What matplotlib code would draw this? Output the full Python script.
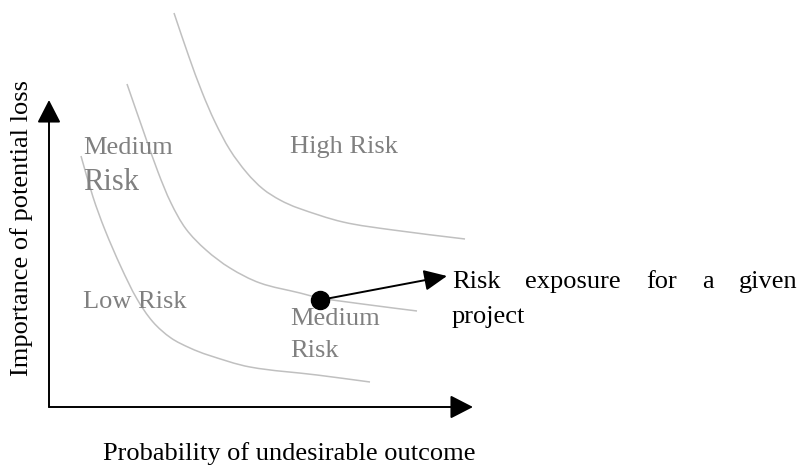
import matplotlib
matplotlib.use("Agg")
import matplotlib.pyplot as plt
from matplotlib.path import Path
from matplotlib.patches import PathPatch
import numpy as np

# ---- data (origin-relative units) ----
low_x = [32, 44, 56, 72, 88, 104, 122, 141, 159, 201, 268, 321]
low_y = [251, 210, 177, 140, 108, 85, 69, 59, 52, 40, 32, 25]

mid_x = [78, 94, 109, 122, 137, 157, 181, 211, 251, 271, 321, 368]
mid_y = [323, 277, 235, 204, 178, 157, 139, 124, 114, 109, 102, 96]

high_x = [125, 140, 153, 166, 181, 198, 214, 231, 249, 294, 344, 416]
high_y = [394, 350, 315, 285, 257, 234, 218, 207, 199, 185, 177, 168]

project_x = [271]
project_y = [107]

region_labels = ["Medium", "Risk", "High Risk", "Low Risk", "Medium", "Risk"]
callout_words = ["Risk", "exposure", "for", "a", "given"]
callout_line2 = "project"
x_label = "Probability of undesirable outcome"
y_label = "Importance of potential loss"

plt.rcParams['font.family'] = ['Liberation Serif', 'DejaVu Serif']

fig = plt.figure(figsize=(7.99, 4.66), dpi=100)
ax = fig.add_axes([0, 0, 1, 1])
ax.set_xlim(-49, 750)
ax.set_ylim(-59, 407)
ax.axis('off')


def smooth_path(xs, ys):
    """Centripetal-ish Catmull-Rom Bezier path through the points (drawing only)."""
    p = np.column_stack([xs, ys]).astype(float)
    verts = [p[0]]
    codes = [Path.MOVETO]
    n = len(p)
    for i in range(n - 1):
        p0 = p[i - 1] if i > 0 else p[i]
        p1 = p[i]
        p2 = p[i + 1]
        p3 = p[i + 2] if i + 2 < n else p[i + 1]
        seg = np.linalg.norm(p2 - p1)
        d0 = np.linalg.norm(p2 - p0) or 1.0
        d1 = np.linalg.norm(p3 - p1) or 1.0
        c1 = p1 + (p2 - p0) / d0 * seg / 3.0
        c2 = p2 - (p3 - p1) / d1 * seg / 3.0
        verts += [c1, c2, p2]
        codes += [Path.CURVE4] * 3
    return Path(verts, codes)


curve_col = '#c0c0c0'
for xs, ys in [(low_x, low_y), (mid_x, mid_y), (high_x, high_y)]:
    ax.add_patch(PathPatch(smooth_path(xs, ys), facecolor='none',
                           edgecolor=curve_col, lw=1.1, capstyle='butt'))

# axes arrows
ax_arrow = dict(arrowstyle='-|>,head_length=0.7,head_width=0.36',
                mutation_scale=20, lw=1.4, color='black',
                shrinkA=0, shrinkB=0)
ax.annotate('', xy=(0, 307), xytext=(0, 0), arrowprops=ax_arrow)
ax.annotate('', xy=(424, 0), xytext=(0, 0), arrowprops=ax_arrow)

# project point and callout arrow
ax.plot(project_x, project_y, 'o', color='black', ms=13, zorder=5)
ax.annotate('', xy=(398, 131), xytext=(project_x[0], project_y[0]),
            arrowprops=dict(arrowstyle='-|>,head_length=0.7,head_width=0.32',
                            mutation_scale=20, lw=1.4, color='black',
                            shrinkA=0, shrinkB=0))

gray = '#808080'
fs = 19
ax.text(34, 253, region_labels[0], color=gray, fontsize=fs, va='baseline')
ax.text(34, 217, region_labels[1], color=gray, fontsize=22, va='baseline')
ax.text(241, 254, region_labels[2], color=gray, fontsize=fs, va='baseline')
ax.text(34, 99, region_labels[3], color=gray, fontsize=fs, va='baseline')
ax.text(241, 82, region_labels[4], color=gray, fontsize=fs, va='baseline')
ax.text(241, 50, region_labels[5], color=gray, fontsize=fs, va='baseline')

# justified callout text
renderer = fig.canvas.get_renderer()
left_px, right_px = 452, 797
texts = [ax.text(0, 119, w, fontsize=fs, color='black', va='baseline') for w in callout_words]
widths = [t.get_window_extent(renderer).width for t in texts]
gap = (right_px - left_px - sum(widths)) / (len(texts) - 1)
xpos = left_px
inv = ax.transData.inverted()
for t, w in zip(texts, widths):
    xd = inv.transform((xpos, 0))[0]
    t.set_x(xd)
    xpos += w + gap
ax.text(403, 84, callout_line2, fontsize=fs, color='black', va='baseline')

# axis labels
ax.text(240, -53, x_label, fontsize=fs, ha='center', va='baseline')
ax.text(-27, 179, y_label, fontsize=fs, ha='center', va='center', rotation=90)

fig.savefig('out.png', dpi=100)
